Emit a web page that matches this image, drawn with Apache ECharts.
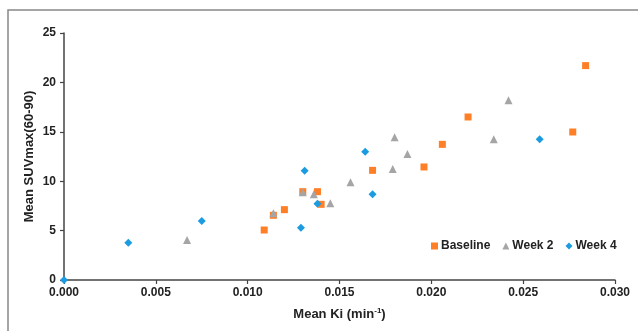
<!DOCTYPE html>
<html><head><meta charset="utf-8">
<script src="https://cdn.jsdelivr.net/npm/echarts@6/dist/echarts.min.js"></script>
<style>html,body{margin:0;padding:0;background:#fff}#c{width:638px;height:331px}</style>
</head><body><div id="c"></div>
<script>
const seriesNames = ['Baseline', 'Week 2', 'Week 4'];
const baselineKi  = [0.0109, 0.0114, 0.0120, 0.0130, 0.0138, 0.0140, 0.0168, 0.0196, 0.0206, 0.0220, 0.0277, 0.0284];
const baselineSUV = [5.06, 6.55, 7.12, 8.94, 8.94, 7.66, 11.1, 11.44, 13.73, 16.5, 14.98, 21.7];
const week2Ki  = [0.0067, 0.0114, 0.0130, 0.0136, 0.0145, 0.0156, 0.0179, 0.0180, 0.0187, 0.0234, 0.0242];
const week2SUV = [4.05, 6.75, 8.87, 8.67, 7.76, 9.89, 11.23, 14.44, 12.75, 14.24, 18.19];
const week4Ki  = [0.0, 0.0035, 0.0075, 0.0129, 0.0131, 0.0138, 0.0164, 0.0168, 0.0259];
const week4SUV = [0.0, 3.78, 5.97, 5.30, 11.06, 7.73, 12.99, 8.67, 14.24];
const xTicks = [0, 0.005, 0.010, 0.015, 0.020, 0.025, 0.030];
const yTicks = [0, 5, 10, 15, 20, 25];

const zip = (a, b) => a.map((v, i) => [v, b[i]]);
const font = 'Liberation Sans, Arial, sans-serif';
const chart = echarts.init(document.getElementById('c'));
chart.setOption({
  animation: false,
  graphic: [{type: 'rect', shape: {x: 8, y: 10, width: 720, height: 400},
    style: {fill: 'none', stroke: '#888', lineWidth: 1.5}, silent: true}],
  grid: {left: 64, right: 23, top: 33, bottom: 51},
  legend: {
    left: 426, top: 235, itemWidth: 7, itemHeight: 7, itemGap: 12,
    textStyle: {fontFamily: font, fontWeight: 'bold', fontSize: 12, color: '#222', padding: [0,0,0,-2]},
    data: [{name: 'Baseline', icon: 'rect'}, {name: 'Week 2', icon: 'triangle'}, {name: 'Week 4', icon: 'diamond'}]
  },
  xAxis: {
    type: 'value', min: xTicks[0], max: xTicks[xTicks.length-1], interval: 0.005,
    splitLine: {show: false},
    axisLine: {lineStyle: {color: '#444', width: 1.5}},
    axisTick: {show: true, length: 4, lineStyle: {color: '#444', width: 1.2}},
    axisLabel: {fontFamily: font, fontWeight: 'bold', fontSize: 12, color: '#222', margin: 7,
      formatter: v => v.toFixed(3)},
    name: 'Mean Ki (min{s|-1})', nameLocation: 'middle', nameGap: 27, nameMoveOverlap: false,
    nameTextStyle: {fontFamily: font, fontWeight: 'bold', fontSize: 13, color: '#222',
      rich: {s: {fontFamily: font, fontWeight: 'bold', fontSize: 8, color: '#222', verticalAlign: 'top', padding: [0,0,6,0]}}}
  },
  yAxis: {
    type: 'value', min: yTicks[0], max: yTicks[yTicks.length-1], interval: 5,
    splitLine: {show: false},
    axisLine: {show: true, lineStyle: {color: '#444', width: 1.5}},
    axisTick: {show: true, length: 4, lineStyle: {color: '#444', width: 1.2}},
    axisLabel: {fontFamily: font, fontWeight: 'bold', fontSize: 12, color: '#222', margin: 8},
    name: 'Mean SUVmax(60-90)', nameLocation: 'middle', nameGap: 28, nameMoveOverlap: false,
    nameTextStyle: {fontFamily: font, fontWeight: 'bold', fontSize: 13, color: '#222'}
  },
  series: [
    {name: seriesNames[0], type: 'scatter', symbol: 'rect', symbolSize: 7,
      itemStyle: {color: '#FF7F27', opacity: 1}, data: zip(baselineKi, baselineSUV)},
    {name: seriesNames[1], type: 'scatter', symbol: 'triangle', symbolSize: 8,
      itemStyle: {color: '#A5A5A5', opacity: 1}, data: zip(week2Ki, week2SUV)},
    {name: seriesNames[2], type: 'scatter', symbol: 'diamond', symbolSize: 8,
      itemStyle: {color: '#1B9BE0', opacity: 1}, data: zip(week4Ki, week4SUV)}
  ]
});
</script></body></html>
